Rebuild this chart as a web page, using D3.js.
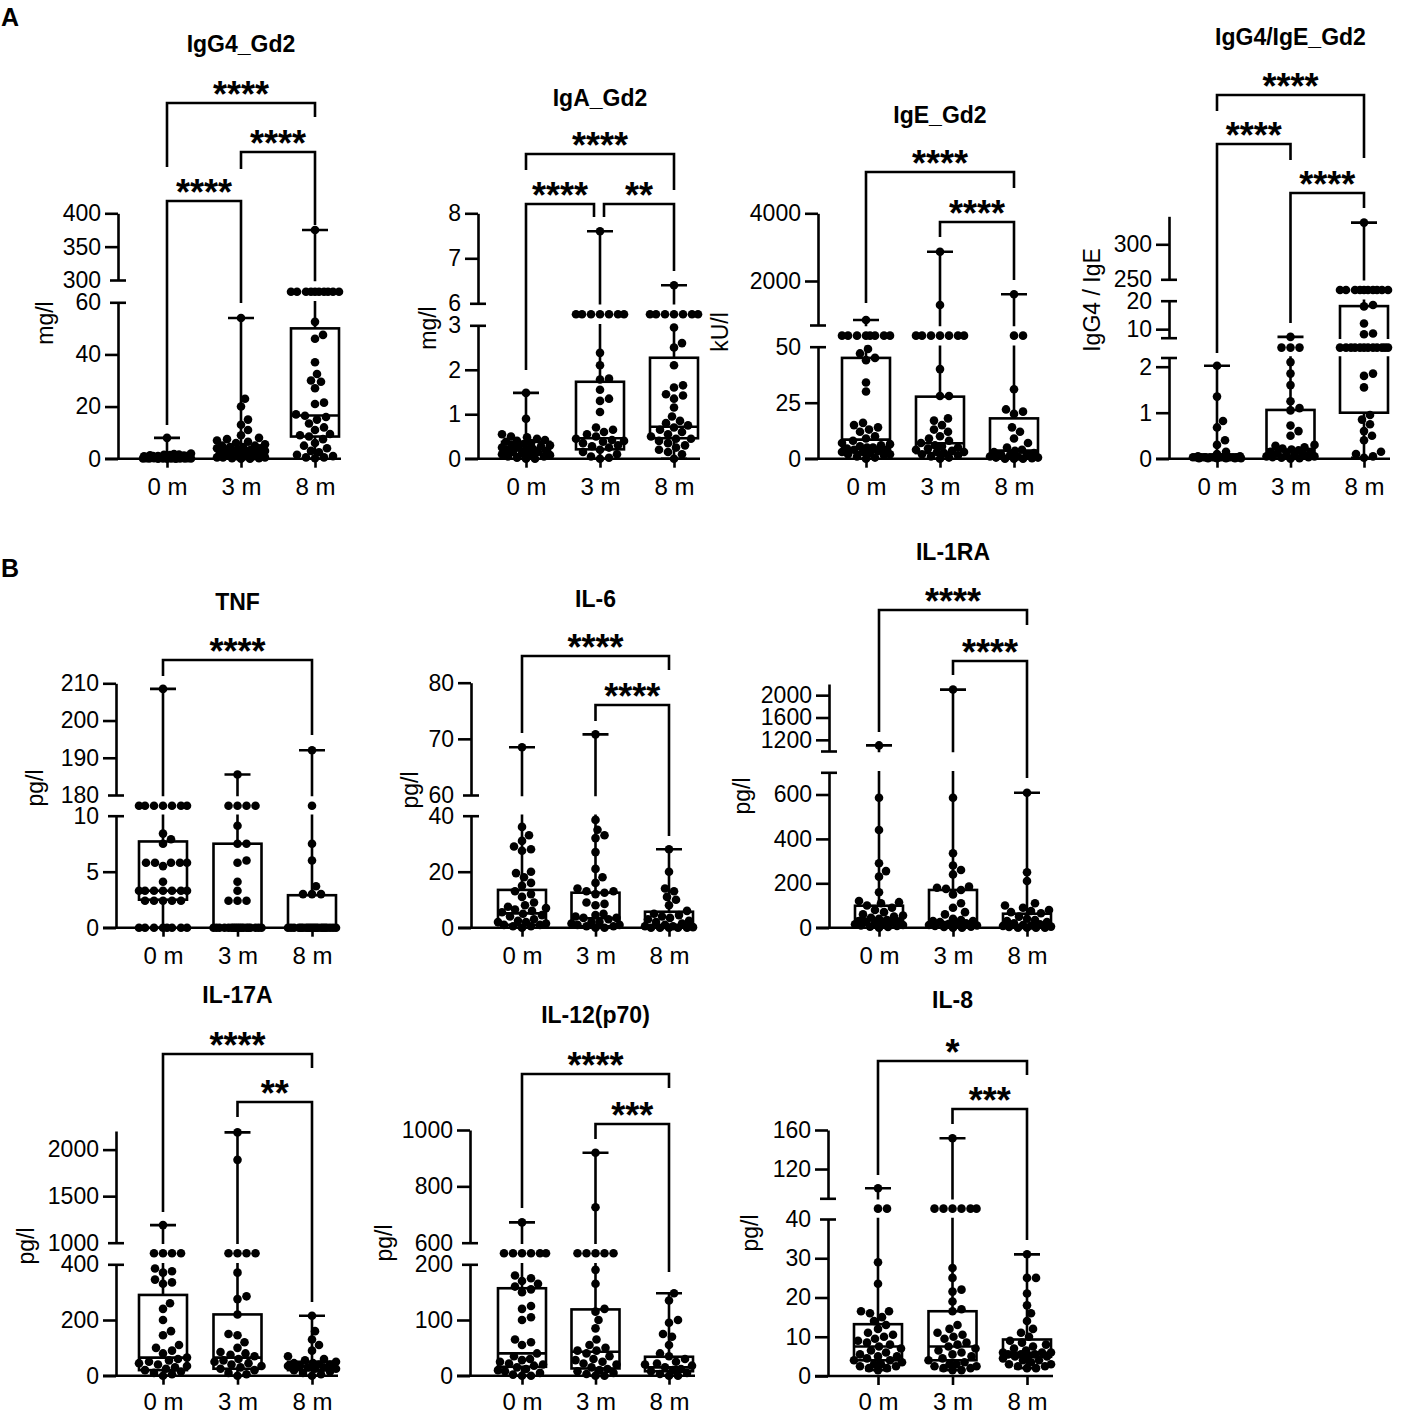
<!DOCTYPE html>
<html>
<head>
<meta charset="utf-8">
<script src="https://cdn.jsdelivr.net/npm/d3@7"></script>
<style>
body { margin: 0; background: #fff; }
text { font-family: "Liberation Sans", Arial, sans-serif; fill: #000; }
</style>
</head>
<body>
<svg id="fig" width="1417" height="1415"></svg>
<script>
const groups = ["0 m", "3 m", "8 m"];

// ---------- IgG4_Gd2 (mg/l)
let igg4_0m = [8, 2, 1.8, 1.6, 1.5, 1.4, 1.3, 1.2, 1.1, 1.0, 1.0, 0.9, 0.8, 0.8, 0.7, 0.7, 0.6, 0.6, 0.5, 0.5, 0.5, 0.4, 0.4, 0.4, 0.3, 0.3, 0.3, 0.2, 0.2, 0.2, 0.2, 0.1, 0.1, 0.1, 0.1, 0.05, 0.05, 0.05, 0, 0, 0];
let igg4_3m = [54, 23, 20, 15, 13, 11, 9, 8, 7.5, 7, 6.5, 6, 5.5, 5, 5, 4.5, 4.5, 4, 4, 3.5, 3.5, 3, 3, 3, 2.5, 2.5, 2, 2, 2, 1.5, 1.5, 1, 1, 1, 0.5, 0.5, 0.5, 0.2, 0.2, 0, 0];
let igg4_8m = [375, 174, 174, 174, 174, 174, 174, 174, 174, 174, 174, 52.5, 47.5, 46, 37, 32.5, 30, 29.5, 27, 21.5, 21, 17, 16.5, 16, 15, 13.5, 12, 11, 9.5, 9, 8.5, 7.5, 6, 5, 4, 3, 2.5, 1.5, 1, 0.5, 0.5, 0.2];
let igg4Box = [[0, 0.2, 0.5, 1.3, 8], [0, 0.8, 2.3, 4, 54], [0, 8.5, 16.6, 50, 375]];
let igg4Breaks = [[0, 60], [300, 400]];
let igg4Ticks = [0, 20, 40, 60, 300, 350, 400];
let igg4Stars = [["0 m", "8 m", "****"], ["3 m", "8 m", "****"], ["0 m", "3 m", "****"]];

// ---------- IgA_Gd2 (mg/l)
let iga_0m = [1.48, 0.9, 0.55, 0.5, 0.48, 0.45, 0.42, 0.4, 0.38, 0.35, 0.33, 0.3, 0.3, 0.28, 0.25, 0.25, 0.22, 0.2, 0.2, 0.18, 0.15, 0.15, 0.12, 0.1, 0.1, 0.08, 0.05, 0.05, 0.02, 0, 0];
let iga_3m = [7.6, 4.5, 4.5, 4.5, 4.5, 4.5, 4.5, 4.5, 2.38, 2.1, 1.8, 1.78, 1.55, 1.35, 1.3, 1.05, 0.7, 0.65, 0.6, 0.55, 0.5, 0.45, 0.42, 0.4, 0.38, 0.35, 0.3, 0.28, 0.25, 0.2, 0.15, 0.1, 0.05, 0.02, 0];
let iga_8m = [6.4, 4.5, 4.5, 4.5, 4.5, 4.5, 4.5, 4.5, 2.95, 2.6, 2.5, 2.1, 1.65, 1.6, 1.45, 1.42, 1.35, 1.15, 0.95, 0.85, 0.8, 0.75, 0.7, 0.65, 0.6, 0.55, 0.5, 0.45, 0.45, 0.4, 0.35, 0.3, 0.25, 0.2, 0.15, 0.1, 0];
let igaBox = [[0, 0.1, 0.22, 0.38, 1.48], [0, 0.21, 0.46, 1.73, 7.6], [0, 0.46, 0.72, 2.27, 6.4]];
let igaBreaks = [[0, 3], [6, 8]];
let igaTicks = [0, 1, 2, 3, 6, 7, 8];
let igaStars = [["0 m", "8 m", "****"], ["0 m", "3 m", "****"], ["3 m", "8 m", "**"]];

// ---------- IgE_Gd2 (kU/l)
let ige_0m = [848, 381, 381, 381, 381, 381, 381, 381, 381, 49, 47, 45, 44, 34, 30, 16, 15, 14, 13, 12, 10, 9, 8, 7, 6.5, 6, 5.5, 5, 5, 4.5, 4, 4, 3.5, 3, 3, 2.5, 2, 2, 1.5, 1, 0.5, 0];
let ige_3m = [2866, 1291, 381, 381, 381, 381, 381, 381, 381, 40, 28, 28, 18, 17, 15, 13, 12, 10, 9, 8, 7, 6, 5.5, 5, 4.5, 4, 3.5, 3, 3, 2.5, 2, 1.5, 1, 0.5, 0];
let ige_8m = [1607, 381, 381, 31, 22, 21, 20, 14, 12, 9, 7, 5, 4, 3.5, 3, 2.5, 2, 2, 1.5, 1, 1, 0.5, 0.5, 0.2, 0, 0, 0];
let igeBox = [[0, 3, 8.5, 45, 848], [0, 2.5, 6.9, 27.7, 2866], [0, 1, 3.6, 18, 1607]];
let igeBreaks = [[0, 50], [700, 4000]];
let igeTicks = [0, 25, 50, 2000, 4000];
let igeStars = [["0 m", "8 m", "****"], ["3 m", "8 m", "****"]];

// ---------- IgG4/IgE_Gd2
let ratio_0m = [2.02, 1.35, 0.82, 0.68, 0.4, 0.3, 0.15, 0.1, 0.05, 0.05, 0.03, 0.03, 0.03, 0.03, 0.03, 0.03, 0.03, 0.03, 0.03, 0.03, 0.03, 0.03, 0.03, 0.03, 0.03, 0.03, 0.01, 0.01, 0.01, 0.01, 0.01, 0.01];
let ratio_3m = [7.3, 4.6, 4.6, 4.6, 2.1, 1.85, 1.6, 1.25, 1.1, 1.05, 0.72, 0.6, 0.5, 0.3, 0.28, 0.25, 0.22, 0.2, 0.18, 0.15, 0.15, 0.12, 0.1, 0.1, 0.08, 0.05, 0.05, 0.03, 0.03, 0.02, 0.01, 0];
let ratio_8m = [331, 135, 135, 135, 135, 135, 135, 135, 135, 135, 135, 18.5, 18, 12, 8.5, 8.2, 4.6, 4.6, 4.6, 4.6, 4.6, 4.6, 4.6, 4.6, 4.6, 4.6, 4.6, 4.6, 1.85, 1.8, 1.55, 0.95, 0.85, 0.75, 0.6, 0.5, 0.4, 0.15, 0.1, 0.05, 0.02];
let ratioBox = [[0, 0.02, 0.03, 0.05, 2.02], [0, 0.05, 0.2, 1.06, 7.3], [0.02, 1.0, 4.6, 18.1, 331]];
let ratioBreaks = [[0, 2.2], [7, 20], [250, 340]];
let ratioTicks = [0, 1, 2, 10, 20, 250, 300];
let ratioStars = [["0 m", "8 m", "****"], ["0 m", "3 m", "****"], ["3 m", "8 m", "****"]];

// ---------- TNF (pg/l)
let tnf_0m = [208.5, 92, 92, 92, 92, 92, 92, 92, 8.4, 7.9, 7.5, 5.8, 5.8, 5.8, 5.8, 5.8, 5.5, 4.1, 3.3, 3.3, 3.3, 3.3, 3.3, 3.3, 3.3, 2.4, 2.4, 2.4, 2.4, 2.4, 0, 0, 0, 0, 0, 0, 0, 0];
let tnf_3m = [185.5, 92, 92, 92, 92, 9.1, 7.5, 7.5, 6, 5.8, 4.1, 3.3, 2.4, 2.4, 2.4, 0, 0, 0, 0, 0, 0, 0, 0, 0, 0, 0, 0, 0, 0, 0, 0, 0, 0];
let tnf_8m = [192, 92, 7.5, 6, 3.7, 3, 3, 3, 0, 0, 0, 0, 0, 0, 0, 0, 0, 0, 0, 0, 0, 0, 0, 0, 0, 0, 0, 0];
let tnfBox = [[0, 2.5, 3.3, 7.7, 208.5], [0, 0, 0, 7.5, 185.5], [0, 0, 0, 2.9, 192]];
let tnfBreaks = [[0, 10], [180, 210]];
let tnfTicks = [0, 5, 10, 180, 190, 200, 210];
let tnfStars = [["0 m", "8 m", "****"]];

// ---------- IL-6 (pg/l)
let il6_0m = [68.5, 36, 33, 31, 29, 28, 27.5, 20, 19.5, 18, 16, 15, 13, 12, 11, 9, 8, 7.5, 7, 6.5, 6, 5.5, 5, 4.5, 4, 3, 2.5, 2, 2, 1.5, 1, 1, 0.5, 0.5, 0];
let il6_3m = [70.8, 38.5, 35, 33, 32, 27, 21, 18, 16, 14, 13, 13, 12.5, 12, 9, 8.5, 8, 5, 4.5, 4, 3.5, 3.5, 3, 2, 2, 1.5, 1, 1, 0.5, 0.5, 0, 0];
let il6_8m = [28, 20, 14, 13, 11, 10, 8, 6, 5, 4.5, 4, 3.5, 3, 2.5, 2, 1.5, 1, 0.5, 0.5, 0.2, 0, 0, 0, 0, 0];
let il6Box = [[0, 1, 5.1, 13.5, 68.5], [0, 0.5, 3.4, 12.5, 70.8], [0, 0, 0.8, 5.7, 28]];
let il6Breaks = [[0, 40], [60, 80]];
let il6Ticks = [0, 20, 40, 60, 70, 80];
let il6Stars = [["0 m", "8 m", "****"], ["3 m", "8 m", "****"]];

// ---------- IL-1RA (pg/l)
let il1ra_0m = [1100, 585, 440, 290, 255, 230, 160, 120, 115, 110, 100, 90, 80, 70, 60, 55, 50, 45, 40, 35, 30, 28, 25, 22, 20, 18, 15, 12, 10, 8, 5, 3, 0];
let il1ra_3m = [2100, 585, 335, 280, 260, 240, 185, 180, 175, 170, 150, 110, 90, 70, 60, 40, 35, 30, 30, 25, 20, 18, 15, 12, 10, 8, 5, 3, 0, 0];
let il1ra_8m = [608, 250, 210, 110, 100, 90, 80, 75, 70, 65, 50, 40, 35, 30, 25, 20, 15, 12, 10, 8, 5, 3, 0, 0, 0, 0];
let il1raBox = [[0, 15, 40, 99, 1100], [0, 10, 25, 170, 2100], [0, 2, 10, 63, 608]];
let il1raBreaks = [[0, 700], [1000, 2200]];
let il1raTicks = [0, 200, 400, 600, 1200, 1600, 2000];
let il1raStars = [["0 m", "8 m", "****"], ["3 m", "8 m", "****"]];

// ---------- IL-17A (pg/l)
let il17_0m = [1189, 705, 705, 705, 705, 385, 375, 370, 345, 335, 330, 260, 240, 200, 160, 145, 110, 100, 90, 80, 65, 60, 55, 50, 45, 40, 35, 30, 25, 20, 15, 10, 5, 0];
let il17_3m = [2185, 1890, 705, 705, 705, 705, 370, 285, 275, 220, 150, 145, 120, 100, 85, 80, 75, 70, 60, 55, 50, 45, 40, 35, 30, 25, 20, 10, 5, 0];
let il17_8m = [215, 160, 130, 110, 90, 70, 60, 55, 50, 45, 45, 40, 40, 35, 35, 30, 30, 25, 25, 20, 15, 10, 5, 0];
let il17Box = [[0, 20, 65, 290, 1189], [0, 25, 65, 220, 2185], [0, 20, 35, 50, 215]];
let il17Breaks = [[0, 400], [1000, 2200]];
let il17Ticks = [0, 200, 400, 1000, 1500, 2000];
let il17Stars = [["0 m", "8 m", "****"], ["3 m", "8 m", "**"]];

// ---------- IL-12(p70) (pg/l)
let il12_0m = [672, 404, 404, 404, 404, 404, 404, 180, 175, 170, 165, 160, 155, 150, 125, 120, 105, 100, 65, 60, 55, 40, 35, 30, 28, 25, 22, 20, 18, 15, 12, 10, 8, 5, 2, 0, 0];
let il12_3m = [919, 726, 404, 404, 404, 404, 404, 190, 165, 120, 115, 100, 85, 65, 55, 50, 45, 45, 40, 35, 30, 28, 25, 22, 20, 15, 12, 10, 8, 5, 3, 0, 0];
let il12_8m = [148, 135, 100, 95, 75, 70, 55, 40, 35, 30, 25, 22, 20, 18, 15, 12, 10, 8, 5, 3, 0, 0];
let il12Box = [[0, 16, 40, 157, 672], [0, 13, 43, 119, 919], [0, 8, 15, 34, 148]];
let il12Breaks = [[0, 200], [600, 1000]];
let il12Ticks = [0, 100, 200, 600, 800, 1000];
let il12Stars = [["0 m", "8 m", "****"], ["3 m", "8 m", "***"]];

// ---------- IL-8 (pg/l)
let il8_0m = [100.3, 65, 65, 29, 23.5, 16.5, 16.5, 16, 15, 14, 13, 12, 11, 10.5, 10, 9.5, 9, 8.5, 8, 7.5, 7, 6.5, 6, 5.5, 5, 5, 4.5, 4, 4, 3.5, 3, 3, 2.5, 2.5, 2, 2, 1.5];
let il8_3m = [151.5, 65, 65, 65, 65, 65, 65, 27.5, 25, 22, 21.5, 19, 17, 16.5, 13, 12, 11, 10.5, 10, 9.5, 8.5, 8, 7.5, 7, 6.5, 6, 5.5, 5, 4.5, 4, 3.5, 3, 3, 2.5, 2.5, 2, 2, 1.5, 1.5];
let il8_8m = [31, 25, 25, 21, 18, 16, 14, 12, 11, 10, 9, 8.5, 8, 7.5, 7, 6.5, 6, 6, 6, 5.5, 5.5, 5.5, 5, 5, 5, 4.5, 4, 4, 3.5, 3, 3, 2.5, 2.5, 2, 2];
let il8Box = [[1.5, 4, 7.5, 13.2, 100.3], [1.5, 4, 7.5, 16.5, 151.5], [2, 4.9, 5.9, 9.3, 31]];
let il8Breaks = [[0, 40], [90, 160]];
let il8Ticks = [0, 10, 20, 30, 40, 120, 160];
let il8Stars = [["0 m", "8 m", "*"], ["3 m", "8 m", "***"]];

// ---------- panels: data + where they sit on the page
let panels = [
    { title: "IgG4_Gd2", unit: "mg/l", dots: [igg4_0m, igg4_3m, igg4_8m], box: igg4Box, breaks: igg4Breaks, ticks: igg4Ticks, stars: igg4Stars,
      ax: 118, cx: [167, 315], px: [[458.7, 302.3], [280, 213.3]], titleY: 44, unitPos: [45, 323],
      brackets: [{y: 103, la: 167, lb: 117}, {y: 152, la: 169, lb: 225}, {y: 201, la: 425, lb: 303}] },
    { title: "IgA_Gd2", unit: "mg/l", dots: [iga_0m, iga_3m, iga_8m], box: igaBox, breaks: igaBreaks, ticks: igaTicks, stars: igaStars,
      ax: 478, cx: [526, 674], px: [[458.7, 325.3], [303.3, 213.3]], titleY: 98, unitPos: [428, 328],
      brackets: [{y: 154, la: 170, lb: 190}, {y: 204, la: 370, lb: 217, db: -6}, {y: 204, la: 217, lb: 271, da: 4}] },
    { title: "IgE_Gd2", unit: "kU/l", dots: [ige_0m, ige_3m, ige_8m], box: igeBox, breaks: igeBreaks, ticks: igeTicks, stars: igeStars,
      ax: 818, cx: [866, 1014], px: [[458.7, 346.7], [325, 213.3]], titleY: 115, unitPos: [720, 332],
      brackets: [{y: 172, la: 303, lb: 188}, {y: 222, la: 237, lb: 280}] },
    { title: "IgG4/IgE_Gd2", unit: "IgG4 / IgE", dots: [ratio_0m, ratio_3m, ratio_8m], box: ratioBox, breaks: ratioBreaks, ticks: ratioTicks, stars: ratioStars,
      ax: 1169, cx: [1217, 1364], px: [[458.7, 357.5], [337.7, 300.7], [279.3, 216.3]], titleY: 37, unitPos: [1092, 300],
      brackets: [{y: 95, la: 111, lb: 158}, {y: 144, la: 353, lb: 160}, {y: 193, la: 323, lb: 208}] },
    { title: "TNF", unit: "pg/l", dots: [tnf_0m, tnf_3m, tnf_8m], box: tnfBox, breaks: tnfBreaks, ticks: tnfTicks, stars: tnfStars,
      ax: 116, cx: [163, 312], px: [[927.7, 815.7], [795, 683.3]], titleY: 602, unitPos: [35, 788],
      brackets: [{y: 660, la: 676, lb: 735}] },
    { title: "IL-6", unit: "pg/l", dots: [il6_0m, il6_3m, il6_8m], box: il6Box, breaks: il6Breaks, ticks: il6Ticks, stars: il6Stars,
      ax: 471, cx: [522, 669], px: [[927.7, 815.7], [795, 682.7]], titleY: 599, unitPos: [410, 790],
      brackets: [{y: 656, la: 733, lb: 670}, {y: 705, la: 721, lb: 836}] },
    { title: "IL-1RA", unit: "pg/l", dots: [il1ra_0m, il1ra_3m, il1ra_8m], box: il1raBox, breaks: il1raBreaks, ticks: il1raTicks, stars: il1raStars,
      ax: 829, cx: [879, 1027], px: [[927.7, 772.3], [751, 684]], titleY: 552, unitPos: [742, 796],
      brackets: [{y: 610, la: 732, lb: 625}, {y: 661, la: 675, lb: 778}] },
    { title: "IL-17A", unit: "pg/l", dots: [il17_0m, il17_3m, il17_8m], box: il17Box, breaks: il17Breaks, ticks: il17Ticks, stars: il17Stars,
      ax: 116, cx: [163, 312], px: [[1375.7, 1264.3], [1242.7, 1131]], titleY: 995, unitPos: [26, 1246],
      brackets: [{y: 1054, la: 1212, lb: 1068}, {y: 1102, la: 1117, lb: 1302}] },
    { title: "IL-12(p70)", unit: "pg/l", dots: [il12_0m, il12_3m, il12_8m], box: il12Box, breaks: il12Breaks, ticks: il12Ticks, stars: il12Stars,
      ax: 470, cx: [522, 669], px: [[1375.7, 1264.3], [1242.7, 1130]], titleY: 1015, unitPos: [384, 1243],
      brackets: [{y: 1074, la: 1208, lb: 1088}, {y: 1124, la: 1139, lb: 1272}] },
    { title: "IL-8", unit: "pg/l", dots: [il8_0m, il8_3m, il8_8m], box: il8Box, breaks: il8Breaks, ticks: il8Ticks, stars: il8Stars,
      ax: 828, cx: [878, 1027], px: [[1376, 1219], [1198.3, 1130]], titleY: 1000, unitPos: [750, 1233],
      brackets: [{y: 1061, la: 1175, lb: 1075}, {y: 1109, la: 1124, lb: 1240}] }
];

const LW = 2.6, R = 4.3, HALF_BOX = 24, CAP = 13, SWARM_HALF = 24;
const TICK_FONT = "23px", CAT_FONT = "24px";

let svg = d3.select("#fig");
svg.append("rect").attr("width", 1417).attr("height", 1415).attr("fill", "#fff");

svg.append("text").attr("x", 1).attr("y", 26).style("font-size", "25px").style("font-weight", "bold").text("A");
svg.append("text").attr("x", 1).attr("y", 577).style("font-size", "25px").style("font-weight", "bold").text("B");

// place dots of one group side by side so they do not overlap (beeswarm)
function swarm(values, y) {
    let placed = [];
    let sorted = values.map(v => ({v: v, py: y(v)})).sort((a, b) => b.py - a.py);
    sorted.forEach(function(d) {
        let best = 0, bestScore = -Infinity;
        for (let k = 0; k <= 2 * SWARM_HALF; k++) {
            let off = (k % 2 ? 1 : -1) * Math.ceil(k / 2);
            let minD = Infinity;
            placed.forEach(function(p) {
                let dd = Math.hypot(p.dx - off, p.py - d.py);
                if (dd < minD) minD = dd;
            });
            if (minD >= 2 * R) { best = off; bestScore = Infinity; break; }
            if (minD > bestScore) { bestScore = minD; best = off; }
        }
        placed.push({v: d.v, py: d.py, dx: best});
    });
    return placed;
}

panels.forEach(function(p, pi) {
    let g = svg.append("g");

    // broken y scale: one linear piece per segment, the gaps fall between them
    let y = d3.scaleLinear().domain(p.breaks.flat()).range(p.px.flat());
    let x = d3.scalePoint().domain(groups).range(p.cx);
    let y0 = y(0);

    // title
    g.append("text")
        .attr("x", x("3 m")).attr("y", p.titleY + 8)
        .style("text-anchor", "middle").style("font-size", "23px").style("font-weight", "bold")
        .text(p.title);

    // unit label
    g.append("text")
        .attr("transform", `translate(${p.unitPos[0]},${p.unitPos[1]}) rotate(-90)`)
        .attr("dy", "0.35em")
        .style("text-anchor", "middle").style("font-size", "23px")
        .text(p.unit);

    // clip so box and whisker lines stop at the axis breaks
    let clipId = "clip" + pi;
    let clip = g.append("clipPath").attr("id", clipId);
    p.px.forEach(function(seg, si) {
        let bottom = si === 0 ? seg[0] + 6 : seg[0] + 1.3;
        clip.append("rect")
            .attr("x", p.ax).attr("width", p.cx[1] - p.ax + 60)
            .attr("y", seg[1] - 1.3).attr("height", bottom - seg[1] + 1.3);
    });

    // y axis, one piece per segment
    let lastBreak = p.breaks.length - 1;
    p.breaks.forEach(function(seg, si) {
        let segScale = d3.scaleLinear().domain(seg).range(p.px[si]);
        let vals = p.ticks.filter(t => t >= seg[0] && t <= seg[1]);
        let ends = [];
        if (si > 0) ends.push(seg[0]);
        if (si < lastBreak) ends.push(seg[1]);
        ends.forEach(e => { if (!vals.includes(e)) vals.push(e); });

        let axisG = g.append("g")
            .attr("transform", `translate(${p.ax},0)`)
            .call(d3.axisLeft(segScale).tickValues(vals).tickSize(13).tickSizeOuter(0).tickPadding(4)
                .tickFormat(d => p.ticks.includes(d) ? String(d) : ""));
        axisG.attr("font-family", null).attr("font-size", null);
        axisG.selectAll("text").style("font-size", TICK_FONT);
        axisG.selectAll("path, line").attr("stroke", "#000").attr("stroke-width", LW);
        axisG.selectAll(".tick").filter(d => ends.includes(d))
            .select("line").attr("x1", 8).attr("x2", -8);
    });

    // x axis (bottom row sits at the page edge, so its labels go a little higher)
    let pad = y0 > 1300 ? 8 : 10;
    let xAxisG = g.append("g")
        .attr("transform", `translate(0,${y0})`)
        .call(d3.axisBottom(x).tickSize(9).tickSizeOuter(0).tickPadding(pad));
    xAxisG.attr("font-family", null).attr("font-size", null);
    xAxisG.select(".domain").attr("d", `M${p.ax - 13},0H${p.cx[1] + 26}`);
    xAxisG.selectAll("text").style("font-size", CAT_FONT);
    xAxisG.selectAll("path, line").attr("stroke", "#000").attr("stroke-width", LW);

    // boxes and whiskers (min to max)
    let boxG = g.append("g").attr("clip-path", `url(#${clipId})`)
        .attr("stroke", "#000").attr("stroke-width", LW).attr("fill", "none");
    p.box.forEach(function(b, gi) {
        let cx = x(groups[gi]);
        boxG.append("line").attr("x1", cx).attr("x2", cx).attr("y1", y(b[3])).attr("y2", y(b[4]));
        boxG.append("line").attr("x1", cx).attr("x2", cx).attr("y1", y(b[1])).attr("y2", y(b[0]));
        boxG.append("line").attr("x1", cx - CAP).attr("x2", cx + CAP).attr("y1", y(b[4])).attr("y2", y(b[4]));
        boxG.append("line").attr("x1", cx - CAP).attr("x2", cx + CAP).attr("y1", y(b[0])).attr("y2", y(b[0]));
        boxG.append("rect")
            .attr("x", cx - HALF_BOX).attr("width", 2 * HALF_BOX)
            .attr("y", y(b[3])).attr("height", Math.max(0, y(b[1]) - y(b[3])));
        boxG.append("line").attr("x1", cx - HALF_BOX).attr("x2", cx + HALF_BOX).attr("y1", y(b[2])).attr("y2", y(b[2]));
    });

    // dots
    p.dots.forEach(function(vals, gi) {
        let cx = x(groups[gi]);
        g.append("g").selectAll("circle")
            .data(swarm(vals, y))
            .enter()
            .append("circle")
            .attr("cx", d => cx + d.dx)
            .attr("cy", d => d.py)
            .attr("r", R)
            .attr("fill", "#000");
    });

    // significance brackets
    p.stars.forEach(function(s, bi) {
        let br = p.brackets[bi];
        let xa = x(s[0]) + (br.da || 0), xb = x(s[1]) + (br.db || 0);
        g.append("path")
            .attr("d", `M${xa},${br.la}V${br.y}H${xb}V${br.lb}`)
            .attr("fill", "none").attr("stroke", "#000").attr("stroke-width", LW);
        g.append("text")
            .attr("x", (xa + xb) / 2).attr("y", br.y + 3.6)
            .style("text-anchor", "middle").style("font-size", "36px").style("font-weight", "bold")
            .text(s[2]);
    });
});
</script>
</body>
</html>
